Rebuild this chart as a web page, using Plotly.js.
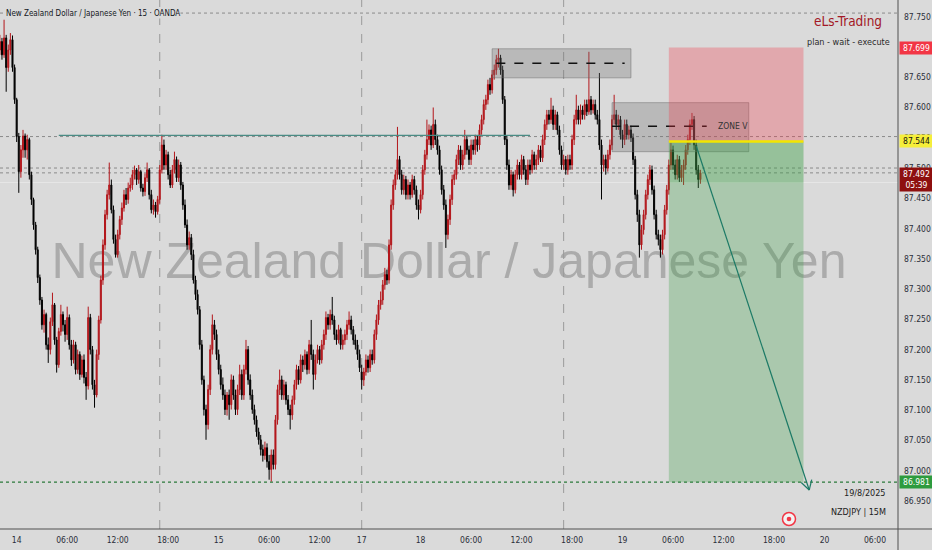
<!DOCTYPE html>
<html>
<head>
<meta charset="utf-8">
<script src="https://cdn.plot.ly/plotly-3.0.1.min.js"></script>
<style>html,body{margin:0;padding:0;background:#dadada;}#chart{width:932px;height:550px;}</style>
</head>
<body>
<div id="chart"></div>
<script>
// ---- data: NZDJPY 15m candles (two sessions, weekend removed) ----
const sessionStartA = '2025-08-13 22:00';
const sessionStartB = '2025-08-17 17:00';

const openA = [87.695,87.709,87.687,87.715,87.666,87.695,87.712,87.666,87.613,87.552,
87.494,87.530,87.553,87.530,87.547,87.489,87.448,87.406,87.365,87.319,
87.282,87.241,87.258,87.208,87.200,87.246,87.274,87.216,87.175,87.230,
87.258,87.241,87.225,87.253,87.208,87.183,87.208,87.167,87.192,87.159,
87.183,87.154,87.140,87.253,87.200,87.142,87.125,87.192,87.249,87.315,
87.373,87.423,87.456,87.472,87.431,87.382,87.357,87.390,87.415,87.434,
87.456,87.448,87.467,87.472,87.489,87.497,87.481,87.494,87.467,87.461,
87.484,87.497,87.456,87.431,87.439,87.428,87.448,87.497,87.538,87.505,
87.522,87.489,87.472,87.497,87.514,87.484,87.505,87.472,87.439,87.406,
87.373,87.385,87.357,87.315,87.291,87.266,87.208,87.150,87.101,87.076,
87.134,87.200,87.241,87.225,87.192,87.167,87.142,87.125,87.101,87.125,
87.109,87.150,87.125,87.101,87.134,87.159,87.125,87.167,87.200,87.150,
87.125,87.101,87.084,87.064,87.051,87.035,87.025,87.038,87.015,87.002,
87.026,87.010,87.084,87.134,87.150,87.125,87.142,87.117,87.101,87.092,
87.117,87.142,87.167,87.150,87.183,87.175,87.192,87.167,87.208,87.192,
87.159,87.183,87.200,87.183,87.208,87.225,87.253,87.241,87.258,87.249,
87.225,87.216,87.233,87.208,87.216,87.225,87.241,87.249,87.233,87.216,
87.208,87.192];
const highA = [87.720,87.715,87.745,87.720,87.704,87.723,87.719,87.671,87.616,87.558,
87.538,87.563,87.557,87.555,87.550,87.494,87.451,87.411,87.370,87.324,
87.287,87.266,87.261,87.220,87.253,87.294,87.277,87.221,87.236,87.274,
87.263,87.249,87.271,87.258,87.216,87.216,87.213,87.200,87.197,87.190,
87.192,87.163,87.271,87.259,87.206,87.150,87.200,87.256,87.322,87.382,
87.431,87.464,87.509,87.481,87.438,87.390,87.398,87.421,87.443,87.464,
87.467,87.476,87.484,87.497,87.504,87.500,87.505,87.497,87.474,87.491,
87.509,87.500,87.464,87.448,87.444,87.454,87.505,87.555,87.547,87.530,
87.527,87.497,87.505,87.527,87.519,87.514,87.510,87.477,87.448,87.415,
87.395,87.391,87.365,87.322,87.299,87.272,87.216,87.157,87.109,87.142,
87.208,87.258,87.249,87.233,87.200,87.175,87.154,87.134,87.130,87.134,
87.159,87.157,87.134,87.142,87.175,87.167,87.175,87.216,87.206,87.159,
87.134,87.109,87.091,87.071,87.059,87.043,87.048,87.045,87.026,87.035,
87.035,87.092,87.142,87.167,87.157,87.150,87.147,87.125,87.109,87.124,
87.150,87.175,87.173,87.192,87.190,87.200,87.197,87.216,87.249,87.200,
87.192,87.208,87.206,87.216,87.233,87.263,87.259,87.266,87.287,87.256,
87.233,87.241,87.236,87.225,87.233,87.249,87.263,87.256,87.239,87.225,
87.216,87.200];
const lowA = [87.687,87.679,87.682,87.626,87.659,87.687,87.659,87.606,87.543,87.459,
87.484,87.517,87.517,87.514,87.481,87.439,87.398,87.357,87.310,87.274,
87.233,87.228,87.200,87.178,87.192,87.239,87.208,87.162,87.170,87.223,
87.230,87.213,87.216,87.200,87.173,87.177,87.159,87.160,87.150,87.154,
87.144,87.117,87.134,87.192,87.134,87.104,87.121,87.183,87.243,87.307,
87.365,87.415,87.448,87.425,87.375,87.352,87.352,87.382,87.406,87.428,
87.439,87.441,87.461,87.464,87.481,87.472,87.474,87.461,87.453,87.454,
87.477,87.448,87.425,87.423,87.418,87.423,87.441,87.491,87.497,87.497,
87.481,87.467,87.467,87.491,87.477,87.477,87.464,87.431,87.401,87.365,
87.365,87.348,87.309,87.282,87.258,87.200,87.142,87.091,87.051,87.068,
87.125,87.192,87.216,87.183,87.159,87.134,87.117,87.092,87.091,87.084,
87.101,87.117,87.092,87.092,87.125,87.117,87.117,87.159,87.142,87.117,
87.094,87.076,87.056,87.043,87.025,87.015,87.018,87.005,86.985,86.982,
87.002,87.002,87.076,87.125,87.117,87.117,87.109,87.092,87.068,87.084,
87.109,87.134,87.142,87.144,87.163,87.167,87.159,87.160,87.183,87.134,
87.150,87.177,87.175,87.177,87.200,87.216,87.233,87.233,87.241,87.216,
87.208,87.210,87.200,87.200,87.208,87.216,87.233,87.225,87.208,87.200,
87.183,87.163];
const closeA = [87.709,87.687,87.715,87.666,87.695,87.712,87.666,87.613,87.552,87.494,
87.530,87.553,87.530,87.547,87.489,87.448,87.406,87.365,87.319,87.282,
87.241,87.258,87.208,87.200,87.246,87.274,87.216,87.175,87.230,87.258,
87.241,87.225,87.253,87.208,87.183,87.208,87.167,87.192,87.159,87.183,
87.154,87.140,87.253,87.200,87.142,87.125,87.192,87.249,87.315,87.373,
87.423,87.456,87.472,87.431,87.382,87.357,87.390,87.415,87.434,87.456,
87.448,87.467,87.472,87.489,87.497,87.481,87.494,87.467,87.461,87.484,
87.497,87.456,87.431,87.439,87.428,87.448,87.497,87.538,87.505,87.522,
87.489,87.472,87.497,87.514,87.484,87.505,87.472,87.439,87.406,87.373,
87.385,87.357,87.315,87.291,87.266,87.208,87.150,87.101,87.076,87.134,
87.200,87.241,87.225,87.192,87.167,87.142,87.125,87.101,87.125,87.109,
87.150,87.125,87.101,87.134,87.159,87.125,87.167,87.200,87.150,87.125,
87.101,87.084,87.064,87.051,87.035,87.025,87.038,87.015,87.002,87.026,
87.010,87.084,87.134,87.150,87.125,87.142,87.117,87.101,87.092,87.117,
87.142,87.167,87.150,87.183,87.175,87.192,87.167,87.208,87.192,87.159,
87.183,87.200,87.183,87.208,87.225,87.253,87.241,87.258,87.249,87.225,
87.216,87.233,87.208,87.216,87.225,87.241,87.249,87.233,87.216,87.208,
87.192,87.170];

const openB = [87.163,87.150,87.163,87.183,87.170,87.192,87.183,87.225,87.249,87.274,
87.282,87.307,87.324,87.315,87.373,87.439,87.472,87.489,87.514,87.489,
87.464,87.481,87.456,87.472,87.456,87.481,87.464,87.439,87.431,87.456,
87.497,87.522,87.547,87.563,87.538,87.572,87.547,87.530,87.497,87.464,
87.439,87.390,87.415,87.448,87.481,87.489,87.514,87.530,87.505,87.522,
87.547,87.530,87.514,87.538,87.530,87.547,87.538,87.563,87.580,87.605,
87.613,87.638,87.629,87.654,87.662,87.679,87.682,87.662,87.613,87.547,
87.505,87.472,87.489,87.464,87.489,87.505,87.489,87.514,87.497,87.481,
87.505,87.497,87.522,87.505,87.514,87.530,87.517,87.547,87.572,87.588,
87.580,87.596,87.572,87.588,87.563,87.530,87.505,87.514,87.497,87.514,
87.505,87.547,87.580,87.596,87.580,87.596,87.588,87.605,87.593,87.613,
87.596,87.605,87.588,87.580,87.538,87.505,87.514,87.500,87.522,87.538,
87.580,87.588,87.572,87.580,87.555,87.547,87.572,87.555,87.563,87.550,
87.514,87.456,87.423,87.373,87.398,87.423,87.456,87.481,87.497,87.464,
87.423,87.390,87.382,87.365,87.390,87.431,87.464,87.505,87.530,87.505,
87.489,87.514,87.484,87.497,87.505,87.530,87.547,87.572,87.580,87.538,
87.497,87.481];
const highB = [87.175,87.170,87.192,87.190,87.200,87.200,87.233,87.258,87.282,87.296,
87.315,87.335,87.332,87.382,87.448,87.481,87.497,87.568,87.520,87.497,
87.489,87.487,87.481,87.477,87.489,87.487,87.471,87.448,87.464,87.505,
87.530,87.580,87.572,87.570,87.600,87.580,87.555,87.537,87.504,87.472,
87.448,87.423,87.456,87.489,87.497,87.522,87.538,87.537,87.530,87.563,
87.553,87.537,87.547,87.547,87.555,87.553,87.572,87.588,87.613,87.621,
87.646,87.649,87.662,87.671,87.687,87.697,87.687,87.669,87.619,87.553,
87.514,87.497,87.494,87.497,87.514,87.510,87.522,87.520,87.505,87.514,
87.514,87.530,87.527,87.522,87.538,87.537,87.555,87.580,87.596,87.596,
87.616,87.603,87.596,87.593,87.570,87.537,87.522,87.520,87.522,87.522,
87.555,87.588,87.621,87.603,87.605,87.603,87.613,87.613,87.692,87.619,
87.613,87.613,87.596,87.657,87.547,87.522,87.522,87.530,87.547,87.588,
87.621,87.596,87.588,87.586,87.563,87.580,87.580,87.570,87.570,87.557,
87.520,87.464,87.431,87.406,87.431,87.464,87.489,87.505,87.504,87.471,
87.431,87.398,87.390,87.398,87.439,87.472,87.514,87.542,87.537,87.514,
87.522,87.520,87.505,87.514,87.538,87.555,87.580,87.591,87.586,87.547,
87.505,87.497];
const lowB = [87.134,87.140,87.157,87.162,87.163,87.175,87.177,87.216,87.241,87.266,
87.274,87.299,87.307,87.309,87.365,87.431,87.464,87.481,87.481,87.456,
87.456,87.448,87.448,87.448,87.451,87.456,87.431,87.415,87.425,87.448,
87.489,87.514,87.538,87.530,87.533,87.538,87.522,87.489,87.456,87.431,
87.368,87.382,87.406,87.439,87.472,87.481,87.505,87.497,87.497,87.514,
87.522,87.505,87.505,87.522,87.522,87.527,87.530,87.555,87.572,87.596,
87.605,87.621,87.623,87.646,87.654,87.666,87.654,87.606,87.538,87.497,
87.464,87.464,87.453,87.458,87.481,87.481,87.481,87.489,87.472,87.472,
87.489,87.491,87.497,87.497,87.505,87.510,87.510,87.538,87.563,87.572,
87.573,87.563,87.563,87.555,87.522,87.497,87.497,87.489,87.489,87.497,
87.497,87.538,87.572,87.572,87.572,87.580,87.580,87.586,87.588,87.588,
87.590,87.580,87.572,87.530,87.448,87.494,87.489,87.494,87.514,87.530,
87.572,87.563,87.563,87.547,87.533,87.538,87.547,87.547,87.543,87.505,
87.448,87.411,87.352,87.365,87.390,87.415,87.448,87.472,87.456,87.415,
87.382,87.372,87.352,87.357,87.382,87.423,87.456,87.497,87.497,87.481,
87.481,87.477,87.477,87.472,87.497,87.522,87.538,87.563,87.530,87.489,
87.467,87.474];
const closeB = [87.150,87.163,87.183,87.170,87.192,87.183,87.225,87.249,87.274,87.282,
87.307,87.324,87.315,87.373,87.439,87.472,87.489,87.514,87.489,87.464,
87.481,87.456,87.472,87.456,87.481,87.464,87.439,87.431,87.456,87.497,
87.522,87.547,87.563,87.538,87.572,87.547,87.530,87.497,87.464,87.439,
87.390,87.415,87.448,87.481,87.489,87.514,87.530,87.505,87.522,87.547,
87.530,87.514,87.538,87.530,87.547,87.538,87.563,87.580,87.605,87.613,
87.638,87.629,87.654,87.662,87.679,87.682,87.662,87.613,87.547,87.505,
87.472,87.489,87.464,87.489,87.505,87.489,87.514,87.497,87.481,87.505,
87.497,87.522,87.505,87.514,87.530,87.517,87.547,87.572,87.588,87.580,
87.596,87.572,87.588,87.563,87.530,87.505,87.514,87.497,87.514,87.505,
87.547,87.580,87.596,87.580,87.596,87.588,87.605,87.593,87.613,87.596,
87.605,87.588,87.580,87.538,87.505,87.514,87.500,87.522,87.538,87.580,
87.588,87.572,87.580,87.555,87.547,87.572,87.555,87.563,87.550,87.514,
87.456,87.423,87.373,87.398,87.423,87.456,87.481,87.497,87.464,87.423,
87.390,87.382,87.365,87.390,87.431,87.464,87.505,87.530,87.505,87.489,
87.514,87.484,87.497,87.505,87.530,87.547,87.572,87.580,87.538,87.497,
87.481,87.492];

// axis tick labels
const xTickVals = ['2025-08-14 00:00','2025-08-14 06:00','2025-08-14 12:00','2025-08-14 18:00',
  '2025-08-15 00:00','2025-08-15 06:00','2025-08-15 12:00','2025-08-17 17:00',
  '2025-08-18 00:00','2025-08-18 06:00','2025-08-18 12:00','2025-08-18 18:00',
  '2025-08-19 00:00','2025-08-19 06:00','2025-08-19 12:00','2025-08-19 18:00',
  '2025-08-20 00:00','2025-08-20 06:00'];
const xTickText = ['14','06:00','12:00','18:00','15','06:00','12:00','17','18','06:00','12:00','18:00','19','06:00','12:00','18:00','20','06:00'];
const yTickVals = [86.95,87.00,87.05,87.10,87.15,87.20,87.25,87.30,87.35,87.40,87.45,87.50,87.55,87.60,87.65,87.70,87.75];
const yTickText = ['86.950','87.000','87.050','87.100','87.150','87.200','87.250','87.300','87.350','87.400','87.450','87.500','87.550','87.600','87.650','87.700','87.750'];

// levels from the drawing tools
const stopPrice = 87.699, entryPrice = 87.544, targetPrice = 86.981, lastPrice = 87.492;
const resistanceLevel = 87.554;
const zone1 = {top: 87.697, bottom: 87.649, mid: 87.673};
const zone2 = {top: 87.608, bottom: 87.527, mid: 87.569};

// ---- build timestamps ----
function pad(n){return (n<10?'0':'')+n;}
function times(start, n){
  const p = start.split(/[- :]/).map(Number);
  const t0 = Date.UTC(p[0], p[1]-1, p[2], p[3], p[4]);
  const out = [];
  for (let i=0;i<n;i++){
    const d = new Date(t0 + i*15*60000);
    out.push(d.getUTCFullYear()+'-'+pad(d.getUTCMonth()+1)+'-'+pad(d.getUTCDate())+' '+pad(d.getUTCHours())+':'+pad(d.getUTCMinutes()));
  }
  return out;
}
const xs = times(sessionStartA, closeA.length).concat(times(sessionStartB, closeB.length));

const NARROW = "'DejaVu Sans Condensed','Liberation Sans',sans-serif";
const WMFONT = "'Liberation Sans',Arial,sans-serif";
const BG = '#dadada';
const W = 898, H = 529; // plot area pixels

const trace = {
  type: 'candlestick', x: xs,
  open: openA.concat(openB), high: highA.concat(highB),
  low: lowA.concat(lowB), close: closeA.concat(closeB),
  increasing: {line: {color: '#b3161b', width: 1}, fillcolor: '#b3161b'},
  decreasing: {line: {color: '#000000', width: 1}, fillcolor: '#000000'},
  whiskerwidth: 0, hoverinfo: 'skip', showlegend: false
};

function hline(y, color, dash, width, layer){
  return {type:'line', xref:'paper', yref:'y', x0:0, x1:1, y0:y, y1:y,
    line:{color:color, dash:dash, width:width}, layer:layer};
}
function vline(x){
  return {type:'line', xref:'x', yref:'paper', x0:x, x1:x, y0:0, y1:1, line:{color:'#9a9a9a', dash:'dash', width:1}, layer:'below'};
}

const arrowTip = {x:'2025-08-19 22:11', y:86.968};
const shapes = [
  // watermark (below candles)
  {type:'rect', xref:'paper', yref:'paper', x0:0, x1:1, y0:18/H, y1:1, line:{width:0}, fillcolor:'rgba(0,0,0,0)', layer:'below',
   label:{text:'New Zealand Dollar / Japanese Yen', textposition:'middle center', font:{family:WMFONT, size:50, color:'#ababab'}}},
  vline('2025-08-14 17:00'), vline('2025-08-17 17:00'), vline('2025-08-18 17:00'),
  hline(87.756, '#8a8a8a', 'dot', 1, 'below'),
  hline(87.552, '#8a8a8a', 'dot', 1, 'below'),
  hline(87.500, '#8a8a8a', 'dot', 1, 'below'),
  hline(lastPrice, '#8a8a8a', 'dot', 1, 'below'),
  hline(87.476, '#e6e6e6', 'solid', 1, 'below'),
  hline(targetPrice, '#2b7a3b', 'dot', 1.2, 'below'),
  // resistance line
  {type:'line', xref:'x', yref:'y', x0:'2025-08-14 05:00', x1:'2025-08-18 13:00', y0:resistanceLevel, y1:resistanceLevel, line:{color:'#4a8c85', width:1.4}, layer:'above'},
  // zone boxes
  {type:'rect', xref:'x', yref:'y', x0:'2025-08-18 08:30', x1:'2025-08-19 01:00', y0:zone1.bottom, y1:zone1.top, fillcolor:'rgba(115,115,115,0.32)', line:{color:'rgba(100,100,100,0.45)', width:1}, layer:'above'},
  {type:'line', xref:'x', yref:'y', x0:'2025-08-18 09:00', x1:'2025-08-19 00:15', y0:zone1.mid, y1:zone1.mid, line:{color:'#111', dash:'dash', width:1.4}, layer:'above'},
  {type:'rect', xref:'x', yref:'y', x0:'2025-08-18 22:45', x1:'2025-08-19 15:00', y0:zone2.bottom, y1:zone2.top, fillcolor:'rgba(115,115,115,0.32)', line:{color:'rgba(100,100,100,0.45)', width:1}, layer:'above'},
  {type:'line', xref:'x', yref:'y', x0:'2025-08-18 22:45', x1:'2025-08-19 10:00', y0:zone2.mid, y1:zone2.mid, line:{color:'#111', dash:'dash', width:1.4}, layer:'above'},
  // short position tool
  {type:'rect', xref:'x', yref:'y', x0:'2025-08-19 05:30', x1:'2025-08-19 21:30', y0:entryPrice, y1:stopPrice, fillcolor:'rgba(242,54,69,0.30)', line:{width:0}, layer:'above'},
  {type:'rect', xref:'x', yref:'y', x0:'2025-08-19 05:30', x1:'2025-08-19 21:30', y0:targetPrice, y1:entryPrice, fillcolor:'rgba(60,160,70,0.30)', line:{width:0}, layer:'above'},
  {type:'rect', xref:'x', yref:'y', x0:'2025-08-19 05:30', x1:'2025-08-19 21:30', y0:87.476, y1:entryPrice, fillcolor:'rgba(60,160,70,0.18)', line:{width:0}, layer:'above'},
  {type:'line', xref:'x', yref:'y', x0:'2025-08-19 05:30', x1:'2025-08-19 21:30', y0:entryPrice, y1:entryPrice, line:{color:'#f2e600', width:2.5}, layer:'above'},
  // arrow
  {type:'line', xref:'x', yref:'y', x0:'2025-08-19 08:46', y0:87.536, x1:arrowTip.x, y1:arrowTip.y, line:{color:'#1c7a66', width:1.2}, layer:'above'},
  {type:'line', xref:'x', yref:'y', xsizemode:'pixel', ysizemode:'pixel', xanchor:arrowTip.x, yanchor:arrowTip.y, x0:0, y0:0, x1:2.5, y1:10.5, line:{color:'#1c7a66', width:1.2}, layer:'above'},
  {type:'line', xref:'x', yref:'y', xsizemode:'pixel', ysizemode:'pixel', xanchor:arrowTip.x, yanchor:arrowTip.y, x0:0, y0:0, x1:-8, y1:7.5, line:{color:'#1c7a66', width:1.2}, layer:'above'},
  // red record icon
  {type:'circle', xref:'paper', yref:'paper', xsizemode:'pixel', ysizemode:'pixel', xanchor:789/W, yanchor:1-519/H, x0:-6.5, x1:6.5, y0:-6.5, y1:6.5, line:{color:'#f23645', width:1.5}, fillcolor:'#f3f3f3', layer:'above'},
  {type:'circle', xref:'paper', yref:'paper', xsizemode:'pixel', ysizemode:'pixel', xanchor:789/W, yanchor:1-519/H, x0:-2.3, x1:2.3, y0:-2.3, y1:2.3, line:{width:0}, fillcolor:'#f23645', layer:'above'},
  // axis frame lines
  {type:'line', xref:'paper', yref:'paper', x0:1, x1:1, y0:-21/H, y1:1, line:{color:'#505050', width:1}, layer:'above'},
  {type:'line', xref:'paper', yref:'paper', x0:0, x1:932/W, y0:0, y1:0, line:{color:'#505050', width:1}, layer:'above'}
];

function priceTag(y, text, bg, fg, opts){
  return Object.assign({xref:'paper', yref:'y', x:1, y:y, xanchor:'left', yanchor:'middle', xshift:1,
    text:text, showarrow:false, bgcolor:bg, font:{family:NARROW, size:8.5, color:fg}, width:31, align:'center', borderpad:1}, opts||{});
}

const annotations = [
  {xref:'paper', yref:'paper', x:5/W, y:1-13/H, xanchor:'left', yanchor:'middle', showarrow:false,
   text:'New Zealand Dollar / Japanese Yen · 15 · OANDA', font:{family:NARROW, size:8, color:'#131722'}, bgcolor:BG, borderpad:0},
  {xref:'paper', yref:'paper', x:848/W, y:1-21/H, xanchor:'center', yanchor:'middle', showarrow:false,
   text:'eLs-Trading', font:{family:NARROW, size:13.5, color:'#a31826'}},
  {xref:'paper', yref:'paper', x:848/W, y:1-42/H, xanchor:'center', yanchor:'middle', showarrow:false,
   text:'plan - wait - execute', font:{family:NARROW, size:9, color:'#2a2a2a'}},
  {xref:'x', yref:'y', x:'2025-08-19 11:09', y:zone2.mid, xanchor:'left', yanchor:'middle', showarrow:false,
   text:'ZONE V', font:{family:NARROW, size:8.5, color:'#333'}},
  {xref:'paper', yref:'paper', x:888/W, y:1-493/H, xanchor:'right', yanchor:'middle', showarrow:false,
   text:'19/8/2025', font:{family:NARROW, size:9, color:'#222'}},
  {xref:'paper', yref:'paper', x:888/W, y:1-512/H, xanchor:'right', yanchor:'middle', showarrow:false,
   text:'NZDJPY | 15M', font:{family:NARROW, size:9, color:'#222'}},
  priceTag(stopPrice, '87.699', '#f23645', '#ffffff'),
  priceTag(entryPrice, '87.544', '#f5ee3a', '#111111'),
  priceTag(lastPrice, '87.492<br>05:39', '#8e0f0f', '#ffffff', {yanchor:'top', yshift:6}),
  priceTag(targetPrice, '86.981', '#2e9b3e', '#ffffff')
];

const layout = {
  width: 932, height: 550,
  margin: {l:0, r:34, t:0, b:21, pad:0},
  paper_bgcolor: BG, plot_bgcolor: BG,
  showlegend: false, hovermode: false, dragmode: false,
  xaxis: {
    type: 'date', range: ['2025-08-13 22:01', '2025-08-20 08:44'],
    rangebreaks: [{bounds: ['2025-08-15 17:00', '2025-08-17 17:00']}],
    rangeslider: {visible: false},
    showgrid: false, zeroline: false, showline: false, ticks: '',
    tickmode: 'array', tickvals: xTickVals, ticktext: xTickText,
    tickfont: {family: NARROW, size: 8.5, color: '#2a2e39'}, ticklabelstandoff: 4, fixedrange: true
  },
  yaxis: {
    side: 'right', range: [86.9036, 87.7776],
    showgrid: false, zeroline: false, showline: false, ticks: '',
    tickmode: 'array', tickvals: yTickVals, ticktext: yTickText,
    tickfont: {family: NARROW, size: 8.5, color: '#2a2e39'}, ticklabelstandoff: 5, fixedrange: true
  },
  shapes: shapes,
  annotations: annotations
};

Plotly.newPlot('chart', [trace], layout, {displayModeBar: false, staticPlot: true});
</script>
</body>
</html>
